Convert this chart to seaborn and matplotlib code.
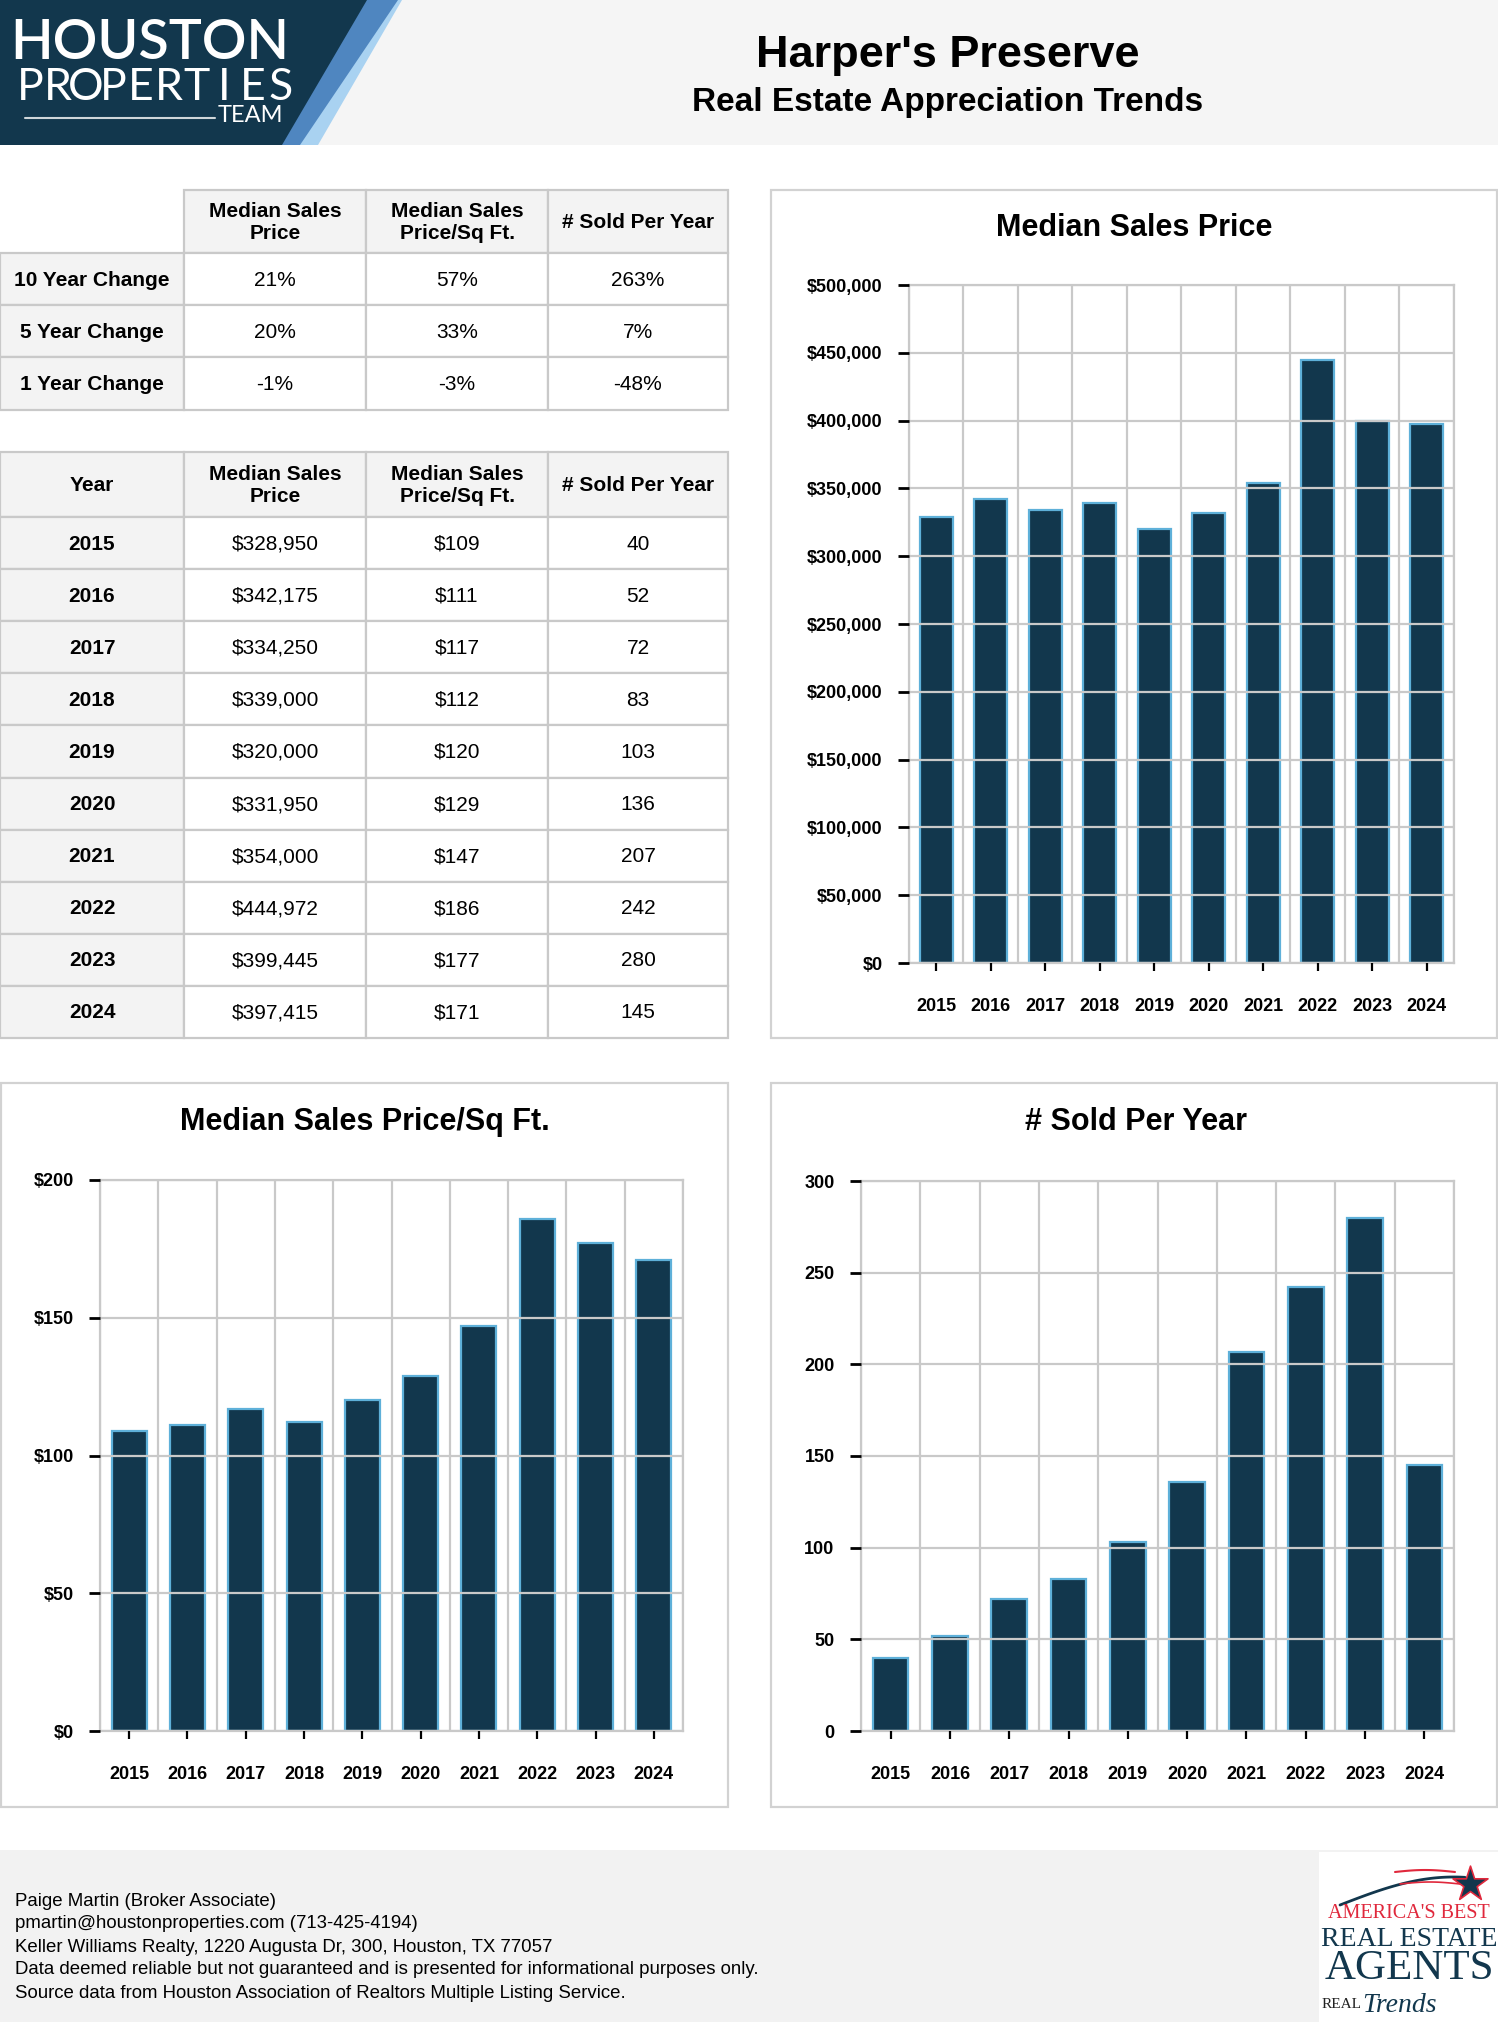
import numpy as np
import matplotlib
matplotlib.use("Agg")
import matplotlib.pyplot as plt
import seaborn as sns
from matplotlib.patches import Rectangle, Polygon
from matplotlib.ticker import FuncFormatter, MultipleLocator

sns.set_style("white")
plt.rcParams["font.family"] = ["Liberation Sans", "DejaVu Sans"]
plt.rcParams["text.color"] = "black"
plt.rcParams["xtick.labelcolor"] = "black"
plt.rcParams["ytick.labelcolor"] = "black"

years = ["2015", "2016", "2017", "2018", "2019", "2020", "2021", "2022", "2023", "2024"]
median_price = [328950, 342175, 334250, 339000, 320000, 331950, 354000, 444972, 399445, 397415]
price_sqft = [109, 111, 117, 112, 120, 129, 147, 186, 177, 171]
sold_per_year = [40, 52, 72, 83, 103, 136, 207, 242, 280, 145]

change_labels = ["10 Year Change", "5 Year Change", "1 Year Change"]
change_price = ["21%", "20%", "-1%"]
change_sqft = ["57%", "33%", "-3%"]
change_sold = ["263%", "7%", "-48%"]

col_headers = ["Median Sales\nPrice", "Median Sales\nPrice/Sq Ft.", "# Sold Per Year"]

footer_lines = [
    "Paige Martin (Broker Associate)",
    "pmartin@houstonproperties.com (713-425-4194)",
    "Keller Williams Realty, 1220 Augusta Dr, 300, Houston, TX 77057",
    "Data deemed reliable but not guaranteed and is presented for informational purposes only.",
    "Source data from Houston Association of Realtors Multiple Listing Service.",
]

W, H = 1498, 2022
NAVY = "#12374d"
EDGE = "#5eb0d9"
GRID = "#c9c9c9"
HEAD_BG = "#f3f3f3"

fig = plt.figure(figsize=(W / 100, H / 100), dpi=100)
fig.patch.set_facecolor("white")

# pixel-space background layer
bg = fig.add_axes([0, 0, 1, 1])
bg.set_xlim(0, W)
bg.set_ylim(H, 0)
bg.axis("off")

# header band + logo
bg.add_patch(Rectangle((0, 0), W, 145, facecolor="#f5f5f5", edgecolor="none"))
bg.add_patch(Polygon([[0, 0], [402, 0], [318, 145], [0, 145]], facecolor="#a9d2f1", edgecolor="none"))
bg.add_patch(Polygon([[0, 0], [398, 0], [300, 145], [0, 145]], facecolor="#4f86c0", edgecolor="none"))
bg.add_patch(Polygon([[0, 0], [367, 0], [282, 145], [0, 145]], facecolor=NAVY, edgecolor="none"))
bg.text(150, 43, "HOUSTON", color="white", fontsize=40, fontweight="semibold",
        family=["Lato", "DejaVu Sans"], ha="center", va="center")
for i, ch in enumerate("PROPERTIES"):
    bg.text(30 + i * 27.8, 88, ch, color="white", fontsize=32, family=["Lato", "DejaVu Sans"],
            ha="center", va="center")
bg.plot([25, 215], [118, 118], color="white", lw=1.5, alpha=0.8)
bg.text(283, 116, "TEAM", color="white", fontsize=17, family=["Lato", "DejaVu Sans"],
        ha="right", va="center")

bg.text(948, 55, "Harper's Preserve", fontsize=32.5, fontweight="bold", ha="center", va="center")
bg.text(948, 102, "Real Estate Appreciation Trends", fontsize=24, fontweight="bold", ha="center", va="center")

# tables
col_x = [0, 184, 366, 548, 728]


def cell(x0, x1, y0, y1, text, fill="white", bold=False, border=True):
    bg.add_patch(Rectangle((x0, y0), x1 - x0, y1 - y0, facecolor=fill,
                           edgecolor=GRID if border else "none", lw=1.6))
    bg.text((x0 + x1) / 2, (y0 + y1) / 2 + 1, text, fontsize=15,
            fontweight="bold" if bold else "normal", ha="center", va="center",
            linespacing=1.15, color="black")


t1_y = [190, 253, 305, 357, 410]
cell(0, col_x[1], t1_y[0], t1_y[1], "", border=False)
for j, h in enumerate(col_headers):
    cell(col_x[j + 1], col_x[j + 2], t1_y[0], t1_y[1], h, HEAD_BG, True)
for i, lab in enumerate(change_labels):
    y0, y1 = t1_y[i + 1], t1_y[i + 2]
    cell(col_x[0], col_x[1], y0, y1, lab, HEAD_BG, True)
    for j, v in enumerate([change_price[i], change_sqft[i], change_sold[i]]):
        cell(col_x[j + 1], col_x[j + 2], y0, y1, v)

t2_y = [452] + list(np.linspace(517, 1038, 11))
cell(col_x[0], col_x[1], t2_y[0], t2_y[1], "Year", HEAD_BG, True)
for j, h in enumerate(col_headers):
    cell(col_x[j + 1], col_x[j + 2], t2_y[0], t2_y[1], h, HEAD_BG, True)
for i, yr in enumerate(years):
    y0, y1 = t2_y[i + 1], t2_y[i + 2]
    cell(col_x[0], col_x[1], y0, y1, yr, HEAD_BG, True)
    vals = [f"${median_price[i]:,}", f"${price_sqft[i]}", f"{sold_per_year[i]}"]
    for j, v in enumerate(vals):
        cell(col_x[j + 1], col_x[j + 2], y0, y1, v)

# chart frames
for (x0, y0, x1, y1) in [(771, 190, 1497, 1038), (1, 1083, 728, 1807), (771, 1083, 1497, 1807)]:
    bg.add_patch(Rectangle((x0, y0), x1 - x0, y1 - y0, facecolor="white", edgecolor="#d2d2d2", lw=1.6))

# footer
bg.add_patch(Rectangle((0, 1850), W, H - 1850, facecolor="#f2f2f2", edgecolor="none"))
for k, line in enumerate(footer_lines):
    bg.text(15, 1901 + k * 23, line, fontsize=13.4, ha="left", va="center", color="black")

# award logo
bg.add_patch(Rectangle((1319, 1852), W - 1319, H - 1852, facecolor="white", edgecolor="none"))
t = np.linspace(0, 1, 50)
bg.plot(1340 + 125 * t, 1905 - 28 * np.sin(t * np.pi * 0.55), color=NAVY, lw=2)
bg.plot(1395 + 60 * t, 1872 - 2 * np.sin(t * np.pi), color="#e0283c", lw=1.5)
bg.plot(1400 + 60 * t, 1884 - 2 * np.sin(t * np.pi), color="#e0283c", lw=1.2)
bg.scatter([1470], [1884], marker="*", s=700, color=NAVY, edgecolor="#e0283c", lw=1.2, zorder=5)
bg.text(1409, 1914, "AMERICA'S BEST", color="#e0283c", fontsize=14.5, family=["Liberation Serif"],
        ha="center", va="center")
bg.text(1409, 1939, "REAL ESTATE", color=NAVY, fontsize=20, family=["Liberation Serif"],
        ha="center", va="center")
bg.text(1409, 1969, "AGENTS", color=NAVY, fontsize=31, family=["Liberation Serif"],
        ha="center", va="center")
bg.text(1322, 2004, "REAL", color="#222222", fontsize=11, family=["Liberation Serif"],
        ha="left", va="center")
bg.text(1362, 2006, "Trends", color=NAVY, fontsize=20, style="italic", family=["Liberation Serif"],
        ha="left", va="center")


def px_axes(left, top, right, bottom):
    return fig.add_axes([left / W, 1 - bottom / H, (right - left) / W, (bottom - top) / H])


def bar_chart(ax, values, ymax, step, fmt, title, title_xy):
    sns.barplot(x=years, y=values, ax=ax, color=NAVY, edgecolor=EDGE, linewidth=1.6,
                width=0.6, saturation=1)
    ax.set_xlim(-0.5, len(years) - 0.5)
    ax.set_ylim(0, ymax)
    ax.yaxis.set_major_locator(MultipleLocator(step))
    ax.yaxis.set_major_formatter(FuncFormatter(fmt))
    ax.set_xticks(np.arange(-0.5, len(years), 1), minor=True)
    ax.set_axisbelow(False)
    ax.grid(True, axis="y", which="major", color=GRID, lw=1.6)
    ax.grid(True, axis="x", which="minor", color=GRID, lw=1.6)
    ax.grid(False, axis="x", which="major")
    for s in ax.spines.values():
        s.set_visible(True)
        s.set_color(GRID)
        s.set_linewidth(1.6)
    ax.tick_params(axis="y", left=True, direction="out", length=8, width=2, color="black", pad=11,
                   labelsize=13)
    ax.tick_params(axis="x", which="major", bottom=True, direction="out", length=6, width=1.6,
                   color="black", pad=19, labelsize=13)
    ax.tick_params(axis="x", which="minor", bottom=False, length=0)
    for lab in ax.get_xticklabels() + ax.get_yticklabels():
        lab.set_fontweight("bold")
    ax.set_xlabel("")
    ax.set_ylabel("")
    bg.text(title_xy[0], title_xy[1], title, fontsize=22, fontweight="bold", ha="center", va="center")


ax1 = px_axes(909, 285, 1454, 963)
bar_chart(ax1, median_price, 500000, 50000, lambda v, p: f"${v:,.0f}", "Median Sales Price", (1134, 228))

ax2 = px_axes(100, 1180, 683, 1731)
bar_chart(ax2, price_sqft, 200, 50, lambda v, p: f"${v:.0f}", "Median Sales Price/Sq Ft.", (365, 1122))

ax3 = px_axes(861, 1181, 1454, 1731)
bar_chart(ax3, sold_per_year, 300, 50, lambda v, p: f"{v:.0f}", "# Sold Per Year", (1136, 1122))

fig.savefig("out.png", dpi=100)
